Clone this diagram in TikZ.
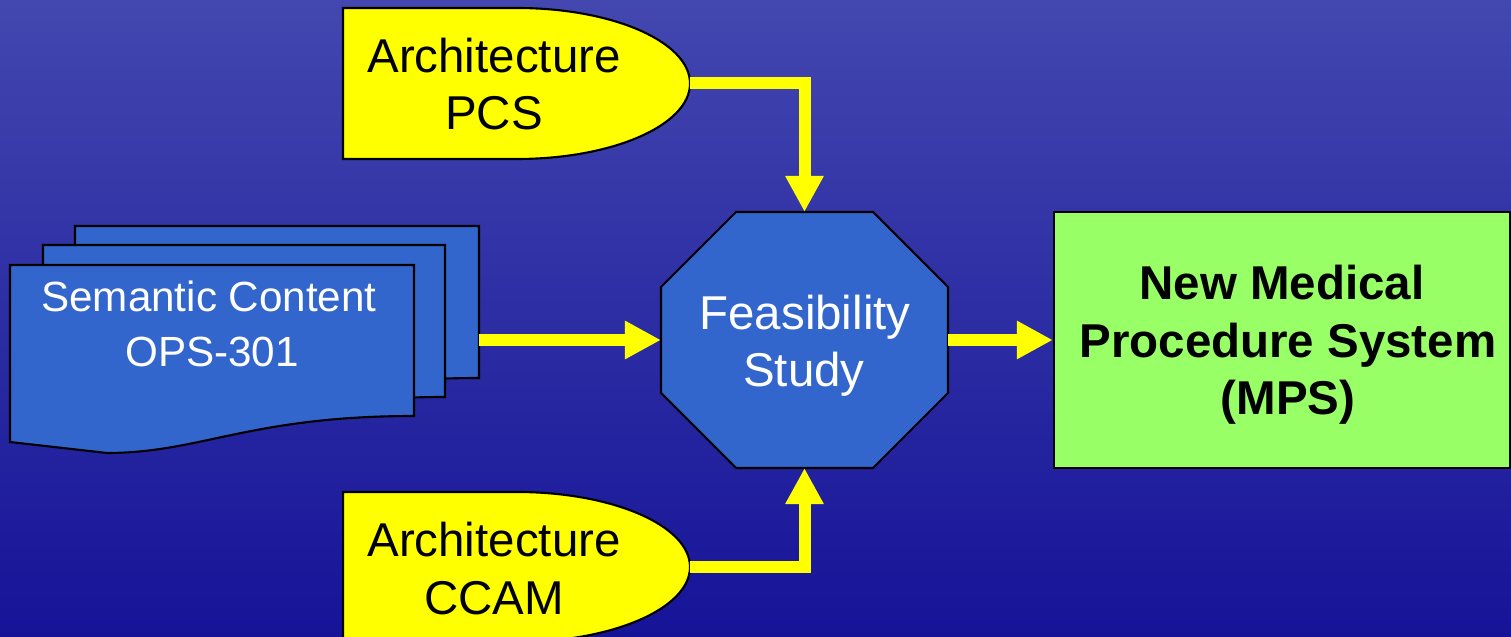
\documentclass[tikz,border=0pt]{standalone}
\usepackage{fontspec}
\setmainfont{Liberation Sans}
\usetikzlibrary{arrows.meta}
\definecolor{bgtop}{RGB}{67,71,175}
\definecolor{bgbot}{RGB}{22,19,152}
\definecolor{docblue}{RGB}{51,102,204}
\definecolor{ylw}{RGB}{255,255,0}
\definecolor{mpsgreen}{RGB}{153,255,102}
\begin{document}
\begin{tikzpicture}[x=0.01cm,y=-0.01cm,
  outline/.style={draw=black, line width=0.6pt, line join=miter},
  flow/.style={draw=ylw, line width=0.12cm, line join=miter, -{Triangle[length=0.36cm,width=0.36cm]}},
  anchorbox/.style 2 args={inner sep=0pt, outer sep=0pt, minimum width=#1, minimum height=#2},
  txt/.style={anchor=base, inner sep=0pt, font=\fontsize{13.5}{16}\selectfont},
  wtxt/.style={txt, text=white},
  btxt/.style={txt, font=\fontsize{13.5}{16}\selectfont\bfseries},
]
\useasboundingbox (0,0) rectangle (1511,637);
\clip (0,0) rectangle (1511,637);
\shade[top color=bgtop, bottom color=bgbot] (0,0) rectangle (1511,637);

% anchor nodes
\node[anchorbox={3.47cm}{1.51cm}] (pcs) at (516.5,83.5) {};
\node[anchorbox={3.47cm}{1.50cm}] (ccam) at (516.5,567) {};
\node[anchorbox={2.87cm}{2.56cm}] (fs) at (804.5,340) {};
\coordinate (docout) at (479,340);

% stacked documents
\path[outline, fill=docblue] (75,226) -- (479,226) -- (479,378)
  .. controls (315,378) and (265,415) .. (172,415) -- (75,404) -- cycle;
\path[outline, fill=docblue] (43,245) -- (445,245) -- (445,397)
  .. controls (281,397) and (231,434) .. (140,434) -- (43,423) -- cycle;
\path[outline, fill=docblue] (10,265) -- (414,265) -- (414,416)
  .. controls (250,416) and (200,453) .. (107,453) -- (10,442) -- cycle;

% delay shapes
\path[outline, fill=ylw] (343,8) -- (517,8)
  .. controls (612.5,8) and (690,41.8) .. (690,83.5)
  .. controls (690,125.2) and (612.5,159) .. (517,159) -- (343,159) -- cycle;
\path[outline, fill=ylw] (343,492) -- (517,492)
  .. controls (612.5,492) and (690,525.6) .. (690,567)
  .. controls (690,608.4) and (612.5,642) .. (517,642) -- (343,642) -- cycle;

% octagon
\path[outline, fill=docblue] (736,212) -- (873,212) -- (948,287) -- (948,393)
  -- (873,468) -- (736,468) -- (661,393) -- (661,287) -- cycle;

% result box
\node[outline, fill=mpsgreen, inner sep=0pt, minimum width=4.56cm, minimum height=2.56cm] (mps) at (1282,340) {};

% connectors
\draw[flow] (pcs.east) -| (fs.north);
\draw[flow] (ccam.east) -| (fs.south);
\draw[flow] (docout) -- (fs.west);
\draw[flow] (fs.east) -- (mps.west);

% texts
\node[txt] (pcsA) at (494,73) {Architecture};
\node[txt] (pcsB) at (494,130) {PCS};
\node[txt] (ccamA) at (494,557) {Architecture};
\node[txt] (ccamB) at (494,615) {CCAM};
\node[wtxt, font=\fontsize{12}{15}\selectfont] (semA) at (209,312) {Semantic Content};
\node[wtxt, font=\fontsize{12}{15}\selectfont] (semB) at (212,367) {OPS-301};
\node[wtxt] (fsA) at (805,330) {Feasibility};
\node[wtxt] (fsB) at (804,387) {Study};
\node[btxt] (mpsA) at (1282,300) {New Medical};
\node[btxt] (mpsB) at (1288,358) {Procedure System};
\node[btxt] (mpsC) at (1288,415) {(MPS)};
\end{tikzpicture}
\end{document}
